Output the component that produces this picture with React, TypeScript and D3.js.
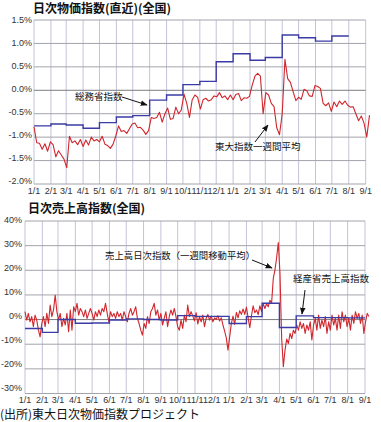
import React from 'react';
import * as d3 from 'd3';

const START = new Date(2010, 0, 1);
const END = new Date(2011, 8, 8);
const LAST_TICK = new Date(2011, 8, 1);

const priceTicks = [1.5, 1.0, 0.5, 0.0, -0.5, -1.0, -1.5, -2.0];
const salesTicks = [40, 30, 20, 10, 0, -10, -20, -30];

// 総務省指数 (monthly, Jan 2010 - Jul 2011)
const cpiMonthly = [-0.76, -0.72, -0.74, -0.81, -0.69, -0.57, -0.54, -0.21, -0.10, 0.12, 0.19, 0.61,
  0.78, 0.64, 0.70, 1.18, 1.12, 1.05, 1.16];

// 東大指数一週間平均 (every 5 days from 2010-01-01)
const todaiStepDays = 5;
const todaiIndex = [
  -0.78, -1.12, -1.13, -1.26, -1.14, -1.30, -1.10, -1.16, -1.42, -1.29,
  -1.38, -1.47, -1.65, -0.98, -1.12, -1.08, -1.16, -1.05, -1.20, -1.06,
  -1.17, -1.00, -1.08, -1.05, -1.10, -0.98, -1.15, -1.18, -1.24, -1.15,
  -0.97, -0.76, -0.88, -0.86, -0.92, -0.82, -0.72, -0.70, -0.80, -0.79,
  -0.85, -0.94, -0.86, -0.58, -0.60, -0.58, -0.47, -0.68, -0.50, -0.38,
  -0.62, -0.60, -0.36, -0.50, -0.42, -0.08, -0.28, -0.58, -0.20, -0.10,
  -0.15, -0.40, -0.20, -0.17, -0.23, -0.20, -0.12, -0.14, -0.05, -0.16,
  -0.12, -0.20, -0.10, -0.20, -0.09, -0.07, -0.22, -0.16, -0.17, -0.13,
  0.11, 0.30, 0.36, 0.30, -0.50, -0.05, -0.10, -0.28, -0.35, -0.80,
  -0.95, -0.50, 0.66, 0.25, 0.17, -0.03, -0.22, -0.15, -0.19, 0.02,
  -0.01, -0.12, -0.13, 0.10, 0.08, 0.04, -0.28, -0.33, -0.27, -0.45,
  -0.25, -0.35, -0.23, -0.30, -0.23, -0.32, -0.36, -0.35, -0.50, -0.65,
  -0.55, -0.70, -1.00, -0.53,
];

// 経産省売上高指数 (monthly, Jan 2010 - Aug 2011)
const metiMonthly = [-3.6, -5.2, 0.0, -1.5, -1.4, -0.2, 0.3, 0.0, -0.2, 1.6, 1.3, 1.3,
  -1.6, 1.2, 6.6, -3.2, 1.5, 0.8, 0.8, 0.7];

// 売上高日次指数(一週間移動平均) (every 3 days from 2010-01-01)
const salesStepDays = 3;
const salesIndex = [
  3.2, -0.2, 2.5, -0.9, 1.2, -2.9, 1.8, -0.2, -4.3, -7.0,
  -1.6, 1.2, -2.9, 2.5, -1.6, 5.9, 1.2, 3.9, 9.9, 3.2,
  -0.2, 2.5, -2.9, 0.5, -2.2, 2.5, -4.9, 3.9, -4.3, 5.2,
  3.2, 6.6, 1.8, 4.5, 3.2, 1.2, 3.9, 0.5, 2.5, 4.5,
  2.5, -0.2, 3.2, 1.2, 3.9, 1.8, 4.5, 3.2, 6.6, 2.5,
  -0.9, 3.2, 1.2, 2.5, 0.5, 3.2, 1.2, 2.5, -0.2, 3.2,
  1.2, -0.9, 2.5, 4.5, 1.8, 3.2, 5.2, 0.5, -1.6, -4.3,
  -6.3, -1.6, -3.6, 1.2, -1.6, 3.2, 4.5, 6.6, 1.8, 3.9,
  -0.2, 2.5, -2.2, 0.5, 3.2, -2.9, 1.2, 3.9, 1.8, 4.5,
  1.2, -2.9, -4.3, -0.2, -3.6, 1.8, -0.9, 5.9, 1.2, 3.2,
  1.5, -0.5, 2.8, -1.8, 1.2, -0.9, 1.8, -2.9, 0.5, 2.1,
  -0.2, 1.4, -0.9, 0.7, 0.1, 1.6, -0.6, 0.7, -2.2, -4.7,
  -7.4, -12.4, -7.0, -1.6, 1.4, -2.0, 2.9, 0.7, 3.6, 2.1,
  4.3, 2.1, 5.1, 0.7, -3.3, 1.6, 5.6, 2.8, 3.9, 2.0,
  5.6, 3.3, 6.4, 4.5, 6.4, 5.2, 7.8, 6.6, 16.7, 20.1,
  25.1, 31.3, 18.7, -7.7, -19.1, -12.4, -7.9, -9.7, -5.6, -7.7,
  -4.3, -5.6, -2.2, -4.3, -0.9, -3.6, -1.6, -5.6, -2.2, -4.3,
  -0.9, -8.3, -2.2, 0.5, -4.3, 1.8, -3.6, -0.2, -2.9, 1.2,
  -5.6, -0.9, -4.3, 1.8, -2.2, 0.5, -4.3, 1.8, -3.6, 3.2,
  -0.9, 1.8, -2.9, 0.5, -4.3, 1.8, -1.6, 3.2, 0.5, 2.5,
  -1.6, 1.8, -5.6, -0.9, 2.5, 1.2,
];

const NUM_FONT = '"Liberation Sans", Arial, sans-serif';
const JP_FONT = '"Noto Sans CJK JP", "Noto Sans", sans-serif';
const RED = '#d0262c';
const BLUE = '#3b3ba6';
const VGRID = '#c3c3db';
const HGRID = '#a4a4ac';
const ZERO = '#7c7c7c';

const monthTicks = d3.timeMonth.range(START, new Date(2011, 8, 2));
const fmtMonth = d3.timeFormat('%-m/%-d');

type PanelProps = {
  left: number; right: number; top: number; bottom: number;
  yDomain: [number, number]; ticks: number[]; tickFmt: (v: number) => string;
  monthly: number[]; daily: number[]; stepDays: number;
  yLabelX: number; xLabelY: number; labelShift: [number, number];
};

function Panel(p: PanelProps) {
  const x = d3.scaleTime().domain([START, END]).range([p.left, p.right]);
  const y = d3.scaleLinear().domain(p.yDomain).range([p.bottom, p.top]);
  const gridRight = x(LAST_TICK);
  const stepData = p.monthly.map((v, i) => ({ d: d3.timeMonth.offset(START, i), v }));
  stepData.push({ d: d3.timeMonth.offset(START, p.monthly.length), v: p.monthly[p.monthly.length - 1] });
  const stepLine = d3.line<{ d: Date; v: number }>().x(d => x(d.d)).y(d => y(d.v)).curve(d3.curveStepAfter);
  const dailyData = p.daily.map((v, i) => ({ d: d3.timeDay.offset(START, i * p.stepDays), v }));
  const line = d3.line<{ d: Date; v: number }>().x(d => x(d.d)).y(d => y(d.v));
  const [lo, hi] = p.yDomain;
  const n = p.ticks.length - 1;
  return (
    <g>
      {monthTicks.map((m, i) => (
        <line key={'v' + i} x1={x(m)} x2={x(m)} y1={y(hi)} y2={y(lo)} stroke={VGRID} strokeWidth={1} />
      ))}
      {p.ticks.map((t, i) => (
        <line key={'h' + i} x1={p.left} x2={gridRight} y1={y(t)} y2={y(t)}
          stroke={t === 0 ? ZERO : HGRID} strokeWidth={1} />
      ))}
      {p.ticks.map((t, i) => (
        <text key={'yl' + i} x={p.yLabelX}
          y={y(t) + p.labelShift[0] + (p.labelShift[1] - p.labelShift[0]) * i / n}
          dy="0.35em" textAnchor="end"
          fontFamily={NUM_FONT} fontSize={9} fill="#333">{p.tickFmt(t)}</text>
      ))}
      {monthTicks.map((m, i) => (
        <text key={'xl' + i} x={x(m)} y={p.xLabelY} textAnchor="middle"
          fontFamily={NUM_FONT} fontSize={9} fill="#333">{fmtMonth(m)}</text>
      ))}
      <path d={line(dailyData) || ''} fill="none" stroke={RED} strokeWidth={1.1} strokeLinejoin="round" />
      <path d={stepLine(stepData) || ''} fill="none" stroke={BLUE} strokeWidth={1.4} />
    </g>
  );
}

function Arrow({ x1, y1, x2, y2 }: { x1: number; y1: number; x2: number; y2: number }) {
  return <line x1={x1} y1={y1} x2={x2} y2={y2} stroke="#111" strokeWidth={1} markerEnd="url(#ah)" />;
}

export default function App() {
  return (
    <svg width={381} height={422} style={{ position: 'absolute', left: 0, top: 0, background: '#fff' }}>
      <defs>
        <marker id="ah" viewBox="0 0 10 10" refX="9" refY="5" markerWidth="7" markerHeight="7" orient="auto">
          <path d="M0,1 L10,5 L0,9 z" fill="#111" />
        </marker>
      </defs>
      <rect width={381} height={422} fill="#fff" />
      <text x={33} y={13} fontFamily={JP_FONT} fontWeight="bold" fontSize={12} fill="#111">日次物価指数(直近)(全国)</text>
      <Panel left={34} right={369.5} top={20} bottom={184} yDomain={[-2, 1.5]} ticks={priceTicks}
        tickFmt={v => v.toFixed(1) + '%'} monthly={cpiMonthly} daily={todaiIndex} stepDays={todaiStepDays}
        yLabelX={32} xLabelY={194} labelShift={[0, -3]} />
      <text x={75} y={100} fontFamily={JP_FONT} fontSize={9.5} fill="#111">総務省指数</text>
      <Arrow x1={122} y1={97} x2={147} y2={105} />
      <text x={215} y={150} fontFamily={JP_FONT} fontSize={9.5} fill="#111">東大指数一週間平均</text>
      <Arrow x1={255} y1={142} x2={268} y2={125} />

      <text x={28} y={213} fontFamily={JP_FONT} fontWeight="bold" fontSize={12} fill="#111">日次売上高指数(全国)</text>
      <Panel left={25} right={368.9} top={221} bottom={393.5} yDomain={[-30, 40]} ticks={salesTicks}
        tickFmt={v => v + '%'} monthly={metiMonthly} daily={salesIndex} stepDays={salesStepDays}
        yLabelX={22} xLabelY={403} labelShift={[-1, -6]} />
      <text x={105} y={258.5} fontFamily={JP_FONT} fontSize={9.4} fill="#111">売上高日次指数（一週間移動平均）</text>
      <Arrow x1={252} y1={260} x2={272} y2={268} />
      <text x={293} y={281.5} fontFamily={JP_FONT} fontSize={9.5} fill="#111">経産省売上高指数</text>
      <Arrow x1={305} y1={290} x2={302} y2={314} />

      <text x={0} y={419} fontFamily={JP_FONT} fontSize={12} fill="#111">(出所)東大日次物価指数プロジェクト</text>
    </svg>
  );
}
